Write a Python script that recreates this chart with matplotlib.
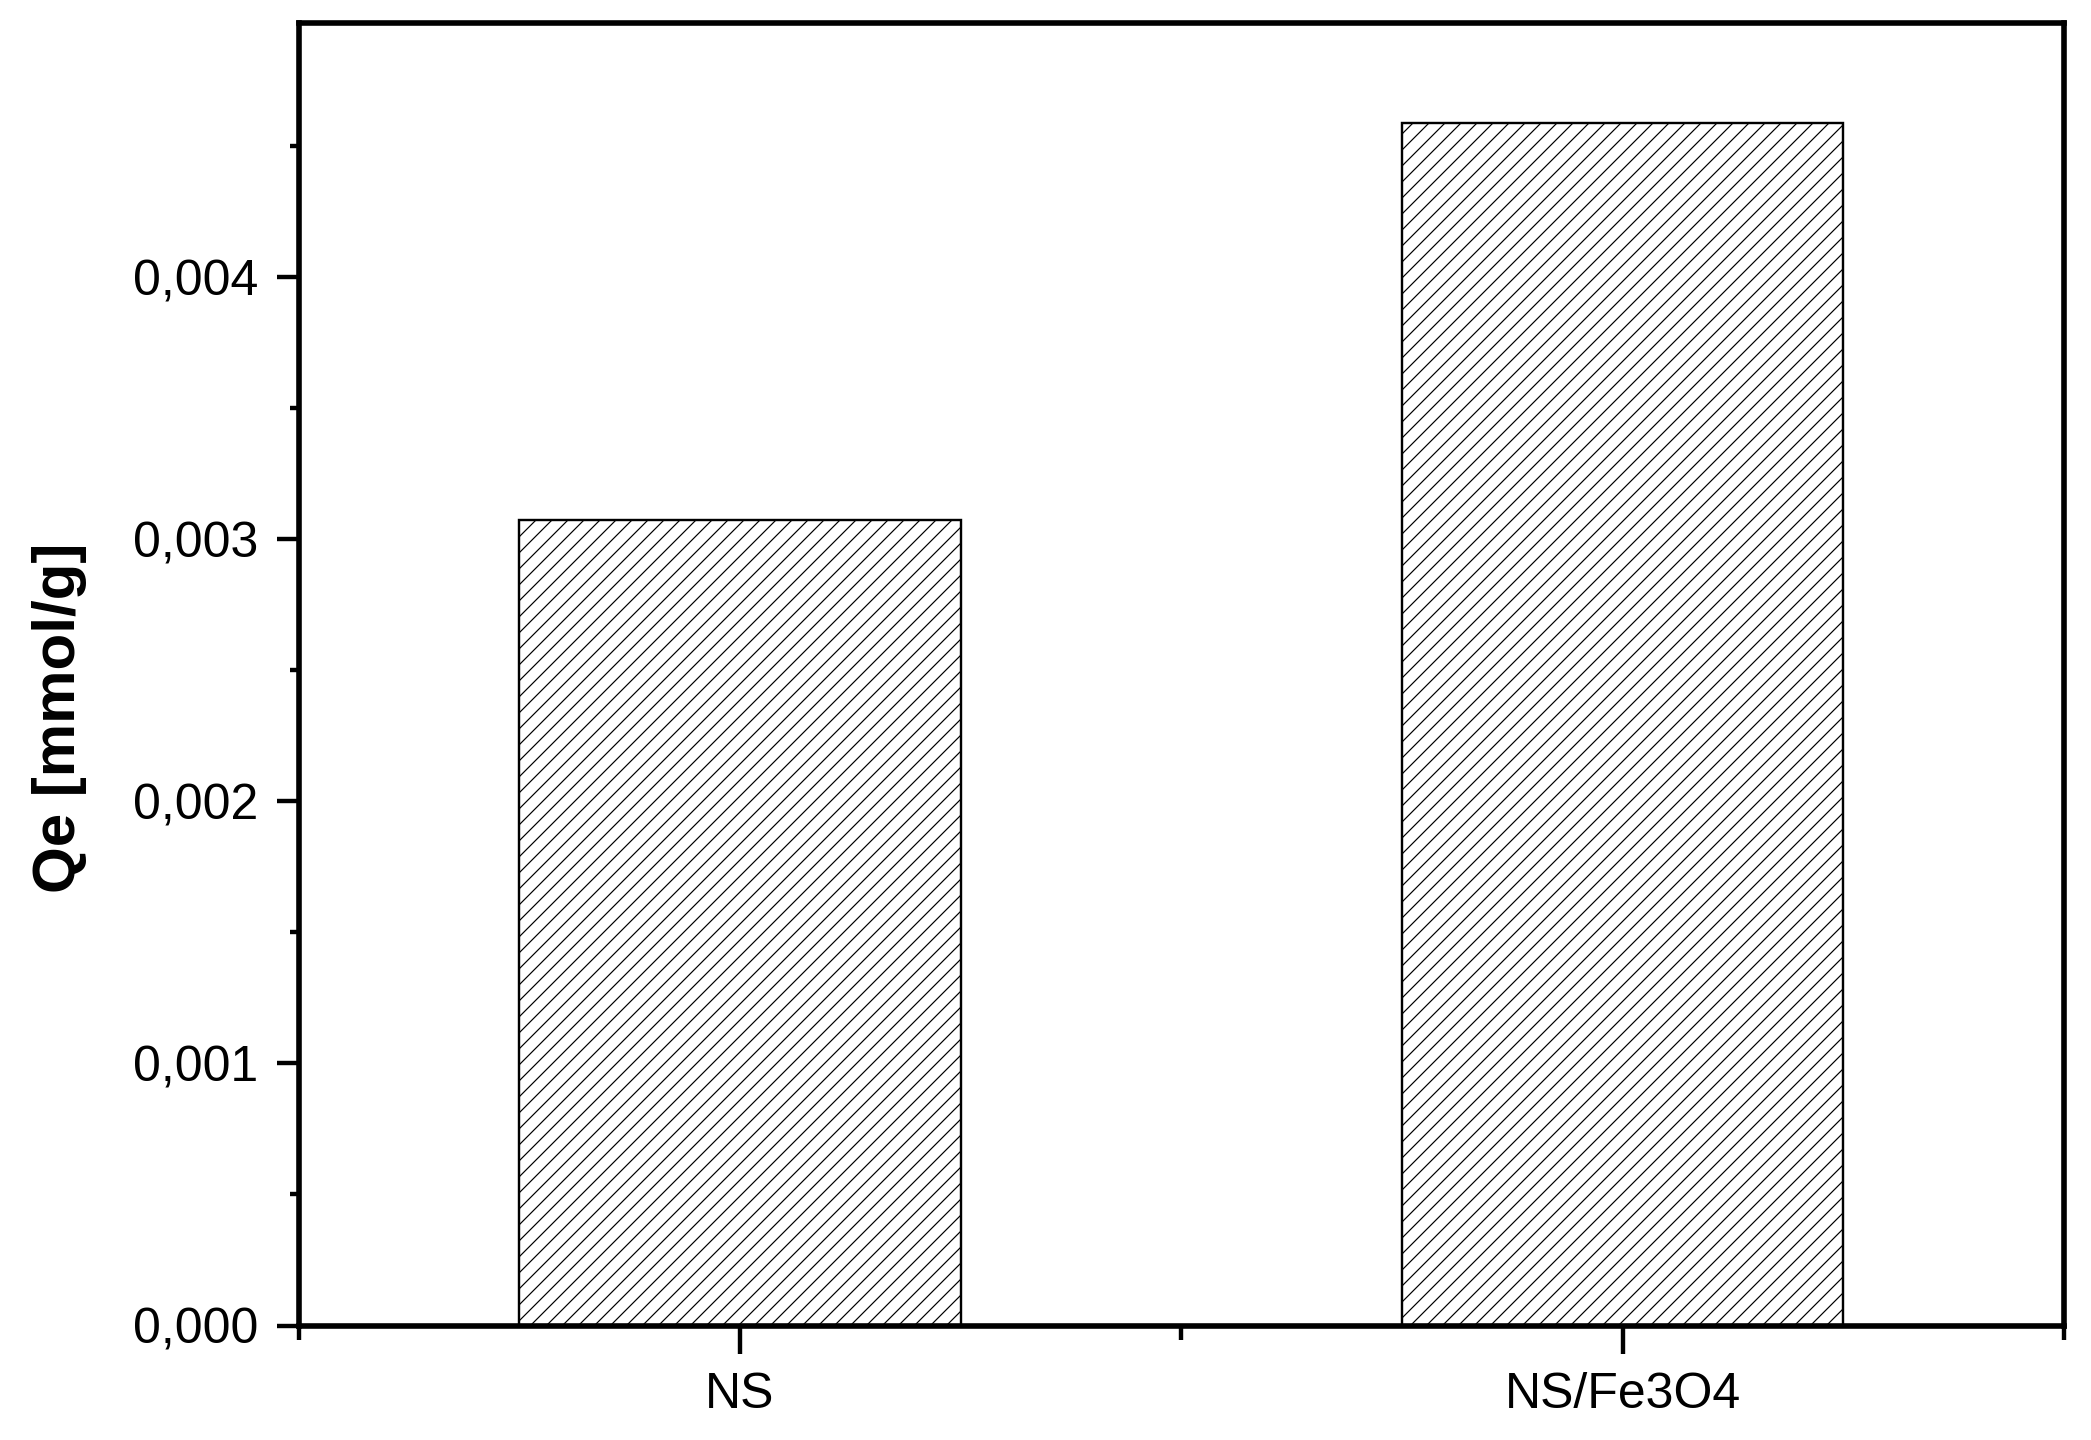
import matplotlib
matplotlib.use("Agg")
import matplotlib.pyplot as plt
from matplotlib.ticker import FuncFormatter, MultipleLocator, FixedLocator

# Dados
amostras = ["NS", "NS/Fe3O4"]
qe = [0.003075, 0.00459]
yticks = [0.000, 0.001, 0.002, 0.003, 0.004]

plt.rcParams['font.family'] = ['Liberation Sans', 'DejaVu Sans']
plt.rcParams['hatch.linewidth'] = 0.6

fig = plt.figure(figsize=(2091 / 144, 1440 / 144), dpi=144)
ax = fig.add_axes([0.1428, 0.0795, 0.987 - 0.1428, 0.984 - 0.0795])

pos = list(range(1, len(amostras) + 1))
ax.bar(pos, qe, width=0.5, color='white', edgecolor='black',
       linewidth=1.2, hatch='///')

ax.set_xlim(0.5, 2.5)
ax.set_ylim(0, 0.00497)

# Eixo x
ax.set_xticks(pos)
ax.set_xticklabels(amostras)
ax.xaxis.set_minor_locator(FixedLocator([0.5, 1.5, 2.5]))

# Eixo y
ax.set_yticks(yticks)
ax.yaxis.set_major_formatter(FuncFormatter(lambda v, p: ('%.3f' % v).replace('.', ',')))
ax.yaxis.set_minor_locator(MultipleLocator(0.0005))

for s in ax.spines.values():
    s.set_linewidth(2.8)

ax.tick_params(axis='both', which='both', direction='out', width=2.2,
               labelsize=25, top=False, right=False)
ax.tick_params(axis='y', which='major', length=11, pad=9)
ax.tick_params(axis='y', which='minor', length=4.5)
ax.tick_params(axis='x', which='major', length=14, pad=9)
ax.tick_params(axis='x', which='minor', length=7)

fig.text(60 / 2091, 1 - 718 / 1440, "Qe [mmol/g]", rotation=90, ha='center', va='center',
         fontsize=30, fontweight='bold')

fig.savefig("out.png", dpi=144)
